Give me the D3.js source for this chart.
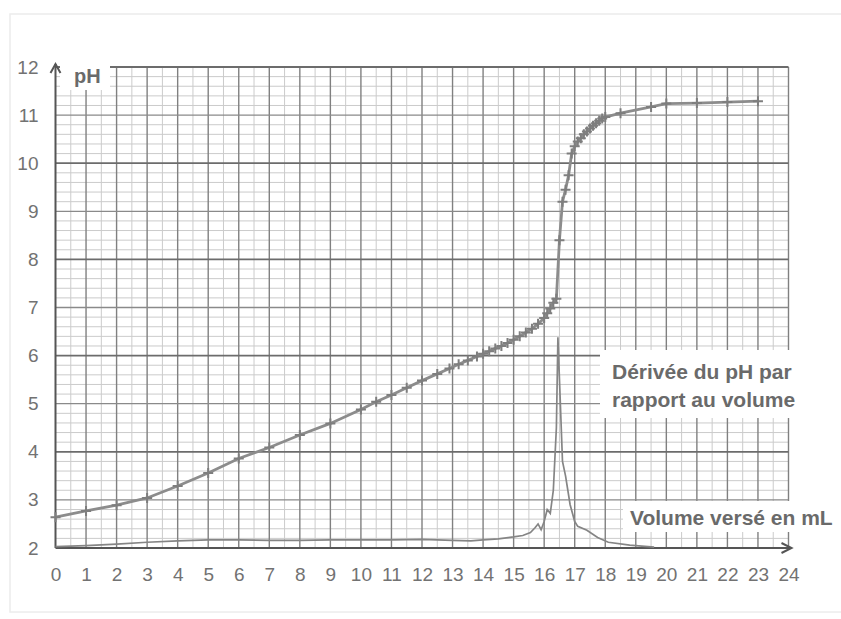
<!DOCTYPE html>
<html>
<head>
<meta charset="utf-8">
<script src="https://cdn.jsdelivr.net/npm/d3@7"></script>
<style>
  body { margin: 0; background: #ffffff; }
  text { font-family: "Liberation Sans", Arial, sans-serif; }
</style>
</head>
<body>
<div id="chart-area"></div>
<script>
// titration data
var volumes = [0, 1, 2, 3, 4, 5, 6, 7, 8, 9, 10, 10.5, 11, 11.5, 12, 12.5, 12.9, 13.2, 13.5, 13.8,
    14.0, 14.2, 14.4, 14.6, 14.8, 15.0, 15.2, 15.4, 15.6, 15.8, 16.0, 16.1, 16.2, 16.3, 16.4,
    16.5, 16.6, 16.7, 16.8, 16.9, 17.0, 17.1, 17.2, 17.3, 17.4, 17.5, 17.6, 17.7, 17.8, 17.9, 18.0,
    18.5, 19.5, 20.0, 21.0, 22.0, 23.0];
var phValues = [2.64, 2.77, 2.89, 3.04, 3.29, 3.56, 3.86, 4.09, 4.35, 4.59, 4.88, 5.04, 5.18, 5.33, 5.48, 5.62, 5.73, 5.82, 5.90, 5.98,
    6.04, 6.09, 6.15, 6.20, 6.26, 6.33, 6.40, 6.48, 6.56, 6.66, 6.78, 6.88, 6.98, 7.10, 7.18,
    8.40, 9.20, 9.45, 9.75, 10.20, 10.35, 10.45, 10.52, 10.60, 10.66, 10.72, 10.78, 10.83, 10.88, 10.93, 10.96,
    11.04, 11.17, 11.24, 11.25, 11.27, 11.29];

// derivative curve (drawn in pH units of the same frame)
var derivVolumes = [0, 1, 2, 3, 4, 5, 6, 7, 8, 9, 10, 11, 12, 13, 13.6, 14, 14.5, 15, 15.3, 15.55, 15.7, 15.8, 15.9,
    16.0, 16.1, 16.2, 16.3, 16.4, 16.45, 16.6, 16.7, 16.85, 17.0, 17.1, 17.4, 17.75, 18.1, 18.8, 19.6];
var derivValues = [2.03, 2.05, 2.08, 2.12, 2.15, 2.17, 2.17, 2.16, 2.16, 2.17, 2.17, 2.17, 2.18, 2.16, 2.15, 2.17, 2.19, 2.23, 2.26, 2.32, 2.42, 2.50, 2.38,
    2.55, 2.80, 2.72, 3.20, 4.50, 6.38, 3.80, 3.50, 2.90, 2.55, 2.45, 2.37, 2.22, 2.12, 2.06, 2.02];

var xTicks = d3.range(0, 25);
var yTicks = d3.range(2, 13);

var W = 841, H = 619;

var svg = d3.select("#chart-area").append("svg")
    .attr("width", W)
    .attr("height", H);

var x = d3.scaleLinear().domain([0, 24]).range([55.5, 788.5]);
var y = d3.scaleLinear().domain([2, 12]).range([548, 67]);

// faint scan frame
svg.append("rect")
    .attr("x", 10).attr("y", 14)
    .attr("width", 840).attr("height", 598)
    .attr("fill", "none")
    .attr("stroke", "#ececec")
    .attr("stroke-width", 1.5);

var grid = svg.append("g");

// minor lines
var minorX = d3.range(0.5, 24, 1);
var minorY = d3.range(0, 50).map(function(i){ return 2 + i * 0.2; })
    .filter(function(v){ return Math.abs(v - Math.round(v)) > 0.01; });

grid.selectAll(".minx").data(minorX).enter().append("line")
    .attr("x1", function(d){ return x(d); })
    .attr("x2", function(d){ return x(d); })
    .attr("y1", y(12)).attr("y2", y(2))
    .attr("stroke", "#cbcbcb").attr("stroke-width", 1);

grid.selectAll(".miny").data(minorY).enter().append("line")
    .attr("x1", x(0)).attr("x2", x(24))
    .attr("y1", function(d){ return y(d); })
    .attr("y2", function(d){ return y(d); })
    .attr("stroke", "#cbcbcb").attr("stroke-width", 1);

// major lines
grid.selectAll(".majx").data(xTicks.slice(1)).enter().append("line")
    .attr("x1", function(d){ return x(d); })
    .attr("x2", function(d){ return x(d); })
    .attr("y1", y(12)).attr("y2", y(2))
    .attr("stroke", "#808080").attr("stroke-width", 1.4);

grid.selectAll(".majy").data(yTicks.slice(1)).enter().append("line")
    .attr("x1", x(0)).attr("x2", x(24))
    .attr("y1", function(d){ return y(d); })
    .attr("y2", function(d){ return y(d); })
    .attr("stroke", function(d){ return d % 2 === 0 ? "#6c6c6c" : "#8a8a8a"; })
    .attr("stroke-width", function(d){ return d % 2 === 0 ? 1.8 : 1.3; });

// white patches behind the labels
svg.append("rect").attr("x", 60).attr("y", 56).attr("width", 50).attr("height", 34).attr("fill", "#fff");
svg.append("rect").attr("x", 600).attr("y", 350).attr("width", 210).attr("height", 68).attr("fill", "#fff");
svg.append("rect").attr("x", 623).attr("y", 501).attr("width", 220).attr("height", 31).attr("fill", "#fff");

// axes lines + arrows
svg.append("line")
    .attr("x1", x(0)).attr("x2", x(0))
    .attr("y1", y(2)).attr("y2", y(12) - 3)
    .attr("stroke", "#555").attr("stroke-width", 2);
svg.append("path")
    .attr("d", "M" + (x(0) - 5) + "," + (y(12) + 6) + "L" + x(0) + "," + (y(12) - 3) + "L" + (x(0) + 5) + "," + (y(12) + 6))
    .attr("fill", "none").attr("stroke", "#555").attr("stroke-width", 2);

svg.append("line")
    .attr("x1", x(0)).attr("x2", x(24) + 3)
    .attr("y1", y(2)).attr("y2", y(2))
    .attr("stroke", "#555").attr("stroke-width", 2.2);
svg.append("path")
    .attr("d", "M" + (x(24) - 7) + "," + (y(2) - 5) + "L" + (x(24) + 3) + "," + y(2) + "L" + (x(24) - 7) + "," + (y(2) + 5))
    .attr("fill", "none").attr("stroke", "#555").attr("stroke-width", 2);

// tick labels
var xAxis = svg.append("g")
    .attr("transform", "translate(0," + y(2) + ")")
    .call(d3.axisBottom(x).tickValues(xTicks).tickSize(0).tickPadding(20).tickFormat(d3.format("d")));
xAxis.select(".domain").remove();

var yAxis = svg.append("g")
    .attr("transform", "translate(" + x(0) + ",0)")
    .call(d3.axisLeft(y).tickValues(yTicks).tickSize(0).tickPadding(17).tickFormat(d3.format("d")));
yAxis.select(".domain").remove();

svg.selectAll(".tick text")
    .attr("font-family", "Liberation Sans, Arial, sans-serif")
    .attr("font-size", "19px")
    .attr("fill", "#727272");

// labels
svg.append("text")
    .attr("x", 74).attr("y", 83)
    .attr("font-size", "20px").attr("font-weight", "bold")
    .attr("fill", "#6a6a6a")
    .text("pH");

svg.append("text")
    .attr("x", 612).attr("y", 379)
    .attr("font-size", "21px").attr("font-weight", "bold")
    .attr("fill", "#6a6a6a")
    .text("Dérivée du pH par");
svg.append("text")
    .attr("x", 612).attr("y", 407)
    .attr("font-size", "21px").attr("font-weight", "bold")
    .attr("fill", "#6a6a6a")
    .text("rapport au volume");

svg.append("text")
    .attr("x", 630).attr("y", 525)
    .attr("font-size", "21px").attr("font-weight", "bold")
    .attr("fill", "#6a6a6a")
    .text("Volume versé en mL");

// curves
var phData = volumes.map(function(v, i){ return {v: v, p: phValues[i]}; });
var derivData = derivVolumes.map(function(v, i){ return {v: v, p: derivValues[i]}; });

var line = d3.line()
    .x(function(d){ return x(d.v); })
    .y(function(d){ return y(d.p); });

svg.append("path")
    .datum(derivData)
    .attr("d", line)
    .attr("fill", "none")
    .attr("stroke", "#858585")
    .attr("stroke-width", 1.7);

svg.append("path")
    .datum(phData)
    .attr("d", line)
    .attr("fill", "none")
    .attr("stroke", "#8c8c8c")
    .attr("stroke-width", 2.8);

svg.selectAll(".mark")
    .data(phData)
    .enter().append("path")
    .attr("class", "mark")
    .attr("d", function(d){
        var cx = x(d.v), cy = y(d.p);
        return "M" + (cx - 5) + "," + cy + "H" + (cx + 5) + "M" + cx + "," + (cy - 5) + "V" + (cy + 5);
    })
    .attr("stroke", "#7e7e7e")
    .attr("stroke-width", 2);
</script>
</body>
</html>
